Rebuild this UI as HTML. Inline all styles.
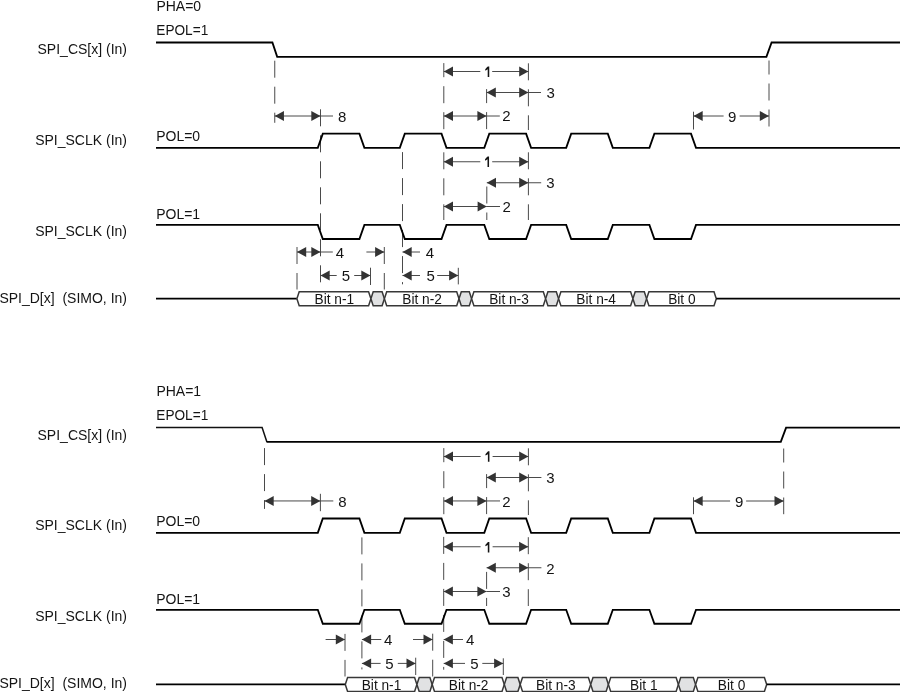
<!DOCTYPE html>
<html><head><meta charset="utf-8"><style>
html,body{margin:0;padding:0;background:#fff;overflow:hidden;}
svg{display:block;will-change:transform;font-family:"Liberation Sans", sans-serif;}
</style></head><body>
<svg width="900" height="692" viewBox="0 0 900 692">
<rect width="900" height="692" fill="#fff"/>
<text transform="translate(156.4,11) scale(1.0,1.05)" text-anchor="start" font-size="14" fill="#141414">PHA=0</text>
<text transform="translate(156.3,34.8) scale(0.975,1.08)" text-anchor="start" font-size="14" fill="#141414">EPOL=1</text>
<text x="127" y="53.5" text-anchor="end" font-size="14" fill="#141414">SPI_CS[x] (In)</text>
<text x="127" y="144.8" text-anchor="end" font-size="14" fill="#141414">SPI_SCLK (In)</text>
<text transform="translate(156.2,140.8) scale(1.0,1.1)" text-anchor="start" font-size="14" fill="#141414">POL=0</text>
<text transform="translate(156.2,218.8) scale(1.0,1.1)" text-anchor="start" font-size="14" fill="#141414">POL=1</text>
<text x="127" y="235.8" text-anchor="end" font-size="14" fill="#141414">SPI_SCLK (In)</text>
<text x="127" y="303.2" text-anchor="end" font-size="14" fill="#141414">SPI_D[x]&#160;&#160;(SIMO, In)</text>
<path d="M274.75,60.7V77.7 M274.75,86.7V103.7 M274.75,112.7V122.8" stroke="#4a4a4a" stroke-width="1.0" fill="none"/>
<path d="M769,60.5V74.5 M769,83.5V100.5 M769,109.5V126.5" stroke="#4a4a4a" stroke-width="1.0" fill="none"/>
<line x1="693.5" y1="111.7" x2="693.5" y2="129.5" stroke="#4a4a4a" stroke-width="1.0"/>
<path d="M320.5,109.3V126.3 M320.5,135.3V152.3 M320.5,161.3V178.3 M320.5,187.3V204.3 M320.5,213.3V230.3 M320.5,239.3V256.3 M320.5,265.3V282.3" stroke="#4a4a4a" stroke-width="1.0" fill="none"/>
<path d="M402.5,152.1V169.1 M402.5,178.1V195.1 M402.5,204.1V221.1 M402.5,230.1V247.1 M402.5,256.1V273.1 M402.5,282.1V284.3" stroke="#4a4a4a" stroke-width="1.0" fill="none"/>
<path d="M297,247V264 M297,273V289.5" stroke="#4a4a4a" stroke-width="1.0" fill="none"/>
<path d="M384.3,247V264 M384.3,273V289.5" stroke="#4a4a4a" stroke-width="1.0" fill="none"/>
<line x1="370.5" y1="267.7" x2="370.5" y2="285" stroke="#4a4a4a" stroke-width="1.0"/>
<line x1="458.3" y1="267.8" x2="458.3" y2="284.4" stroke="#4a4a4a" stroke-width="1.0"/>
<path d="M443.8,63.1V77.2 M443.8,86.2V103.2 M443.8,112.2V129.2" stroke="#4a4a4a" stroke-width="1.0" fill="none"/>
<path d="M443.8,152.3V169.3 M443.8,178.3V195.3 M443.8,204.3V220" stroke="#4a4a4a" stroke-width="1.0" fill="none"/>
<path d="M486.6,89.1V103.1 M486.6,112.1V129.1" stroke="#4a4a4a" stroke-width="1.0" fill="none"/>
<path d="M486.8,186.5V203.5 M486.8,212.5V220" stroke="#4a4a4a" stroke-width="1.0" fill="none"/>
<path d="M528.4,63.3V80.3 M528.4,89.3V106.3 M528.4,115.3V130" stroke="#4a4a4a" stroke-width="1.0" fill="none"/>
<path d="M528.4,152.3V169.3 M528.4,178.3V195.3 M528.4,204.3V220" stroke="#4a4a4a" stroke-width="1.0" fill="none"/>
<path d="M156,42.5 L272.4,42.5 L277.2,56.8 L766.4,56.8 L771.6,42.5 L900,42.5" fill="none" stroke="#000" stroke-width="1.85" stroke-linejoin="miter" stroke-miterlimit="10"/>
<path d="M156,147.8 L317.8,147.8 L322.8,133.6 L359.4,133.6 L364.4,147.8 L399.8,147.8 L404.8,133.6 L441.5,133.6 L446.5,147.8 L484.3,147.8 L489.3,133.6 L526.1,133.6 L531.1,147.8 L566.2,147.8 L571.2,133.6 L607.8,133.6 L612.8,147.8 L649.4,147.8 L654.4,133.6 L691,133.6 L696,147.8 L900,147.8" fill="none" stroke="#000" stroke-width="1.85" stroke-linejoin="miter" stroke-miterlimit="10"/>
<path d="M156,224.9 L317.8,224.9 L322.8,239 L359.4,239 L364.4,224.9 L399.8,224.9 L404.8,239 L441.5,239 L446.5,224.9 L484.3,224.9 L489.3,239 L526.1,239 L531.1,224.9 L566.2,224.9 L571.2,239 L607.8,239 L612.8,224.9 L649.4,224.9 L654.4,239 L691,239 L696,224.9 L900,224.9" fill="none" stroke="#000" stroke-width="1.85" stroke-linejoin="miter" stroke-miterlimit="10"/>
<line x1="274.75" y1="116" x2="320.5" y2="116" stroke="#4a4a4a" stroke-width="1.0"/>
<line x1="320.5" y1="116" x2="333" y2="116" stroke="#4a4a4a" stroke-width="1.0"/>
<polygon points="274.75,116 283.95,111.05 283.95,120.95" fill="#333"/>
<polygon points="320.5,116 311.3,111.05 311.3,120.95" fill="#333"/>
<text x="342.25" y="121.6" text-anchor="middle" font-size="15" fill="#141414">8</text>
<line x1="693.5" y1="116" x2="723.6" y2="116" stroke="#4a4a4a" stroke-width="1.0"/>
<line x1="739.6" y1="116" x2="769" y2="116" stroke="#4a4a4a" stroke-width="1.0"/>
<polygon points="693.5,116 702.7,111.05 702.7,120.95" fill="#333"/>
<polygon points="769,116 759.8,111.05 759.8,120.95" fill="#333"/>
<text x="732.1" y="121.85" text-anchor="middle" font-size="15" fill="#141414">9</text>
<line x1="443.8" y1="71.5" x2="480.3" y2="71.5" stroke="#4a4a4a" stroke-width="1.0"/>
<line x1="492.2" y1="71.5" x2="528.4" y2="71.5" stroke="#4a4a4a" stroke-width="1.0"/>
<polygon points="443.8,71.5 453,66.55 453,76.45" fill="#333"/>
<polygon points="528.4,71.5 519.2,66.55 519.2,76.45" fill="#333"/>
<polygon points="489.25,66.45 489.25,76.95 487.7,76.95 487.7,69.35 485.4,70.75 485.2,69.35 486.95,67.35 487.85,66.45" fill="#141414"/>
<line x1="486.6" y1="92.5" x2="528.4" y2="92.5" stroke="#4a4a4a" stroke-width="1.0"/>
<line x1="528.4" y1="92.5" x2="541" y2="92.5" stroke="#4a4a4a" stroke-width="1.0"/>
<polygon points="486.6,92.5 495.8,87.55 495.8,97.45" fill="#333"/>
<polygon points="528.4,92.5 519.2,87.55 519.2,97.45" fill="#333"/>
<text x="550.55" y="98.05" text-anchor="middle" font-size="15" fill="#141414">3</text>
<line x1="443.8" y1="116" x2="486.6" y2="116" stroke="#4a4a4a" stroke-width="1.0"/>
<line x1="486.6" y1="116" x2="499.8" y2="116" stroke="#4a4a4a" stroke-width="1.0"/>
<polygon points="443.8,116 453,111.05 453,120.95" fill="#333"/>
<polygon points="486.6,116 477.4,111.05 477.4,120.95" fill="#333"/>
<text x="506.45" y="121.25" text-anchor="middle" font-size="15" fill="#141414">2</text>
<line x1="443.8" y1="161.75" x2="480.3" y2="161.75" stroke="#4a4a4a" stroke-width="1.0"/>
<line x1="492.2" y1="161.75" x2="528.4" y2="161.75" stroke="#4a4a4a" stroke-width="1.0"/>
<polygon points="443.8,161.75 453,156.8 453,166.7" fill="#333"/>
<polygon points="528.4,161.75 519.2,156.8 519.2,166.7" fill="#333"/>
<polygon points="489.05,156.45 489.05,166.95 487.5,166.95 487.5,159.35 485.2,160.75 485,159.35 486.75,157.35 487.65,156.45" fill="#141414"/>
<line x1="486.8" y1="182.75" x2="528.4" y2="182.75" stroke="#4a4a4a" stroke-width="1.0"/>
<line x1="528.4" y1="182.75" x2="541.2" y2="182.75" stroke="#4a4a4a" stroke-width="1.0"/>
<polygon points="486.8,182.75 496,177.8 496,187.7" fill="#333"/>
<polygon points="528.4,182.75 519.2,177.8 519.2,187.7" fill="#333"/>
<text x="550.5" y="188.25" text-anchor="middle" font-size="15" fill="#141414">3</text>
<line x1="443.8" y1="206.5" x2="486.8" y2="206.5" stroke="#4a4a4a" stroke-width="1.0"/>
<line x1="486.8" y1="206.5" x2="500" y2="206.5" stroke="#4a4a4a" stroke-width="1.0"/>
<polygon points="443.8,206.5 453,201.55 453,211.45" fill="#333"/>
<polygon points="486.8,206.5 477.6,201.55 477.6,211.45" fill="#333"/>
<text x="506.55" y="211.9" text-anchor="middle" font-size="15" fill="#141414">2</text>
<line x1="297" y1="252" x2="320.5" y2="252" stroke="#4a4a4a" stroke-width="1.0"/>
<line x1="320.5" y1="252" x2="332.8" y2="252" stroke="#4a4a4a" stroke-width="1.0"/>
<polygon points="297,252 306.2,247.05 306.2,256.95" fill="#333"/>
<polygon points="320.5,252 311.3,247.05 311.3,256.95" fill="#333"/>
<text x="340" y="257.8" text-anchor="middle" font-size="15" fill="#141414">4</text>
<line x1="366.4" y1="252" x2="384.3" y2="252" stroke="#4a4a4a" stroke-width="1.0"/>
<polygon points="384.3,252 375.1,247.05 375.1,256.95" fill="#333"/>
<line x1="402.5" y1="252" x2="420" y2="252" stroke="#4a4a4a" stroke-width="1.0"/>
<polygon points="402.5,252 411.7,247.05 411.7,256.95" fill="#333"/>
<text x="430" y="257.8" text-anchor="middle" font-size="15" fill="#141414">4</text>
<line x1="320.5" y1="275.5" x2="336.7" y2="275.5" stroke="#4a4a4a" stroke-width="1.0"/>
<line x1="354.2" y1="275.5" x2="370.5" y2="275.5" stroke="#4a4a4a" stroke-width="1.0"/>
<polygon points="320.5,275.5 329.7,270.55 329.7,280.45" fill="#333"/>
<polygon points="370.5,275.5 361.3,270.55 361.3,280.45" fill="#333"/>
<text x="345.85" y="280.95" text-anchor="middle" font-size="15" fill="#141414">5</text>
<line x1="402.5" y1="275.5" x2="420" y2="275.5" stroke="#4a4a4a" stroke-width="1.0"/>
<line x1="437.2" y1="275.5" x2="458.3" y2="275.5" stroke="#4a4a4a" stroke-width="1.0"/>
<polygon points="402.5,275.5 411.7,270.55 411.7,280.45" fill="#333"/>
<polygon points="458.3,275.5 449.1,270.55 449.1,280.45" fill="#333"/>
<text x="430.55" y="280.95" text-anchor="middle" font-size="15" fill="#141414">5</text>
<line x1="156" y1="298.6" x2="296.9" y2="298.6" stroke="#000" stroke-width="1.85"/>
<polygon points="296.9,298.75 299.2,291.7 368.6,291.7 370.9,298.75 368.6,305.8 299.2,305.8" fill="#fff" stroke="#383838" stroke-width="1.5" stroke-linejoin="miter"/>
<text transform="translate(334.3,303.9) scale(0.98,1.08)" text-anchor="middle" font-size="14" fill="#141414">Bit n-1</text>
<polygon points="370.9,298.75 373.2,291.7 382.1,291.7 384.4,298.75 382.1,305.8 373.2,305.8" fill="#e1e2e3" stroke="#383838" stroke-width="1.5" stroke-linejoin="miter"/>
<polygon points="384.4,298.75 386.7,291.7 456.7,291.7 459,298.75 456.7,305.8 386.7,305.8" fill="#fff" stroke="#383838" stroke-width="1.5" stroke-linejoin="miter"/>
<text transform="translate(422.1,303.9) scale(0.98,1.08)" text-anchor="middle" font-size="14" fill="#141414">Bit n-2</text>
<polygon points="459,298.75 461.3,291.7 469.3,291.7 471.6,298.75 469.3,305.8 461.3,305.8" fill="#e1e2e3" stroke="#383838" stroke-width="1.5" stroke-linejoin="miter"/>
<polygon points="471.6,298.75 473.9,291.7 543.3,291.7 545.6,298.75 543.3,305.8 473.9,305.8" fill="#fff" stroke="#383838" stroke-width="1.5" stroke-linejoin="miter"/>
<text transform="translate(509,303.9) scale(0.98,1.08)" text-anchor="middle" font-size="14" fill="#141414">Bit n-3</text>
<polygon points="545.6,298.75 547.9,291.7 556.3,291.7 558.6,298.75 556.3,305.8 547.9,305.8" fill="#e1e2e3" stroke="#383838" stroke-width="1.5" stroke-linejoin="miter"/>
<polygon points="558.6,298.75 560.9,291.7 630.6,291.7 632.9,298.75 630.6,305.8 560.9,305.8" fill="#fff" stroke="#383838" stroke-width="1.5" stroke-linejoin="miter"/>
<text transform="translate(596.15,303.9) scale(0.98,1.08)" text-anchor="middle" font-size="14" fill="#141414">Bit n-4</text>
<polygon points="632.9,298.75 635.2,291.7 644.3,291.7 646.6,298.75 644.3,305.8 635.2,305.8" fill="#e1e2e3" stroke="#383838" stroke-width="1.5" stroke-linejoin="miter"/>
<polygon points="646.6,298.75 648.9,291.7 714,291.7 716.3,298.75 714,305.8 648.9,305.8" fill="#fff" stroke="#383838" stroke-width="1.5" stroke-linejoin="miter"/>
<text transform="translate(681.85,303.9) scale(0.98,1.08)" text-anchor="middle" font-size="14" fill="#141414">Bit 0</text>
<line x1="716.3" y1="298.6" x2="900" y2="298.6" stroke="#000" stroke-width="1.85"/>
<text transform="translate(156.4,396) scale(1.0,1.05)" text-anchor="start" font-size="14" fill="#141414">PHA=1</text>
<text transform="translate(156.3,419.8) scale(0.975,1.08)" text-anchor="start" font-size="14" fill="#141414">EPOL=1</text>
<text x="127" y="439.5" text-anchor="end" font-size="14" fill="#141414">SPI_CS[x] (In)</text>
<text x="127" y="529.8" text-anchor="end" font-size="14" fill="#141414">SPI_SCLK (In)</text>
<text transform="translate(156.2,525.8) scale(1.0,1.1)" text-anchor="start" font-size="14" fill="#141414">POL=0</text>
<text transform="translate(156.2,603.8) scale(1.0,1.1)" text-anchor="start" font-size="14" fill="#141414">POL=1</text>
<text x="127" y="620.8" text-anchor="end" font-size="14" fill="#141414">SPI_SCLK (In)</text>
<text x="127" y="688.2" text-anchor="end" font-size="14" fill="#141414">SPI_D[x]&#160;&#160;(SIMO, In)</text>
<path d="M264.5,448.1V465.1 M264.5,474.1V491.1 M264.5,500.1V508.9" stroke="#4a4a4a" stroke-width="1.0" fill="none"/>
<path d="M783.7,448.5V462.5 M783.7,471.5V488.5 M783.7,497.5V514.2" stroke="#4a4a4a" stroke-width="1.0" fill="none"/>
<line x1="320.4" y1="493.8" x2="320.4" y2="511.2" stroke="#4a4a4a" stroke-width="1.0"/>
<line x1="693.5" y1="497.3" x2="693.5" y2="514.2" stroke="#4a4a4a" stroke-width="1.0"/>
<path d="M443.8,448.1V462.2 M443.8,471.2V488.2 M443.8,497.2V514.2" stroke="#4a4a4a" stroke-width="1.0" fill="none"/>
<path d="M486.6,474.1V488.1 M486.6,497.1V514.1" stroke="#4a4a4a" stroke-width="1.0" fill="none"/>
<path d="M528.4,448.3V465.3 M528.4,474.3V491.3 M528.4,500.3V515" stroke="#4a4a4a" stroke-width="1.0" fill="none"/>
<path d="M443.7,536.9V553.9 M443.7,562.9V579.9 M443.7,588.9V605.9 M443.7,614.9V631.9 M443.7,640.9V657.9 M443.7,666.9V669.7" stroke="#4a4a4a" stroke-width="1.0" fill="none"/>
<path d="M486.6,571.9V588.9 M486.6,597.9V606" stroke="#4a4a4a" stroke-width="1.0" fill="none"/>
<path d="M528.3,537.2V554.2 M528.3,563.2V580.2 M528.3,589.2V606" stroke="#4a4a4a" stroke-width="1.0" fill="none"/>
<path d="M361.9,537.4V554.4 M361.9,563.4V580.4 M361.9,589.4V606.4 M361.9,615.4V632.4 M361.9,641.4V658.4 M361.9,667.4V669.4" stroke="#4a4a4a" stroke-width="1.0" fill="none"/>
<path d="M345,633.9V650.9 M345,659.9V676.5" stroke="#4a4a4a" stroke-width="1.0" fill="none"/>
<path d="M432.7,633.7V650.7 M432.7,659.7V676.5" stroke="#4a4a4a" stroke-width="1.0" fill="none"/>
<line x1="415.7" y1="657.7" x2="415.7" y2="675" stroke="#4a4a4a" stroke-width="1.0"/>
<line x1="503.3" y1="658.3" x2="503.3" y2="675" stroke="#4a4a4a" stroke-width="1.0"/>
<path d="M156,427.5 L262.1,427.5 L266.9,441.9" fill="none" stroke="#111" stroke-width="1.5"/>
<path d="M266.6,441.9 L780.8,441.9 L786.1,427.6 L900,427.6" fill="none" stroke="#000" stroke-width="1.85" stroke-linejoin="miter" stroke-miterlimit="10"/>
<path d="M156,532.9 L317.8,532.9 L322.8,518.5 L359.4,518.5 L364.4,532.9 L399.8,532.9 L404.8,518.5 L441.5,518.5 L446.5,532.9 L484.3,532.9 L489.3,518.5 L526.1,518.5 L531.1,532.9 L566.2,532.9 L571.2,518.5 L607.8,518.5 L612.8,532.9 L649.4,532.9 L654.4,518.5 L691,518.5 L696,532.9 L900,532.9" fill="none" stroke="#000" stroke-width="1.85" stroke-linejoin="miter" stroke-miterlimit="10"/>
<path d="M156,609.8 L317.8,609.8 L322.8,623.7 L359.4,623.7 L364.4,609.8 L399.8,609.8 L404.8,623.7 L441.5,623.7 L446.5,609.8 L484.3,609.8 L489.3,623.7 L526.1,623.7 L531.1,609.8 L566.2,609.8 L571.2,623.7 L607.8,623.7 L612.8,609.8 L649.4,609.8 L654.4,623.7 L691,623.7 L696,609.8 L900,609.8" fill="none" stroke="#000" stroke-width="1.85" stroke-linejoin="miter" stroke-miterlimit="10"/>
<line x1="264.5" y1="500.95" x2="320.4" y2="500.95" stroke="#4a4a4a" stroke-width="1.0"/>
<line x1="320.4" y1="500.95" x2="333.3" y2="500.95" stroke="#4a4a4a" stroke-width="1.0"/>
<polygon points="264.5,500.95 273.7,496 273.7,505.9" fill="#333"/>
<polygon points="320.4,500.95 311.2,496 311.2,505.9" fill="#333"/>
<text x="342.45" y="506.65" text-anchor="middle" font-size="15" fill="#141414">8</text>
<line x1="693.5" y1="501" x2="730.1" y2="501" stroke="#4a4a4a" stroke-width="1.0"/>
<line x1="746.1" y1="501" x2="783.7" y2="501" stroke="#4a4a4a" stroke-width="1.0"/>
<polygon points="693.5,501 702.7,496.05 702.7,505.95" fill="#333"/>
<polygon points="783.7,501 774.5,496.05 774.5,505.95" fill="#333"/>
<text x="739.05" y="506.85" text-anchor="middle" font-size="15" fill="#141414">9</text>
<line x1="443.8" y1="456.5" x2="480.6" y2="456.5" stroke="#4a4a4a" stroke-width="1.0"/>
<line x1="492.6" y1="456.5" x2="528.4" y2="456.5" stroke="#4a4a4a" stroke-width="1.0"/>
<polygon points="443.8,456.5 453,451.55 453,461.45" fill="#333"/>
<polygon points="528.4,456.5 519.2,451.55 519.2,461.45" fill="#333"/>
<polygon points="489.45,451.25 489.45,461.75 487.9,461.75 487.9,454.15 485.6,455.55 485.4,454.15 487.15,452.15 488.05,451.25" fill="#141414"/>
<line x1="486.6" y1="477.5" x2="528.4" y2="477.5" stroke="#4a4a4a" stroke-width="1.0"/>
<line x1="528.4" y1="477.5" x2="541.4" y2="477.5" stroke="#4a4a4a" stroke-width="1.0"/>
<polygon points="486.6,477.5 495.8,472.55 495.8,482.45" fill="#333"/>
<polygon points="528.4,477.5 519.2,472.55 519.2,482.45" fill="#333"/>
<text x="550.5" y="483.15" text-anchor="middle" font-size="15" fill="#141414">3</text>
<line x1="443.8" y1="500.95" x2="486.6" y2="500.95" stroke="#4a4a4a" stroke-width="1.0"/>
<line x1="486.6" y1="500.95" x2="500" y2="500.95" stroke="#4a4a4a" stroke-width="1.0"/>
<polygon points="443.8,500.95 453,496 453,505.9" fill="#333"/>
<polygon points="486.6,500.95 477.4,496 477.4,505.9" fill="#333"/>
<text x="506.5" y="506.75" text-anchor="middle" font-size="15" fill="#141414">2</text>
<line x1="443.7" y1="546.75" x2="480.6" y2="546.75" stroke="#4a4a4a" stroke-width="1.0"/>
<line x1="492.6" y1="546.75" x2="528.3" y2="546.75" stroke="#4a4a4a" stroke-width="1.0"/>
<polygon points="443.7,546.75 452.9,541.8 452.9,551.7" fill="#333"/>
<polygon points="528.3,546.75 519.1,541.8 519.1,551.7" fill="#333"/>
<polygon points="489.35,542.05 489.35,552.55 487.8,552.55 487.8,544.95 485.5,546.35 485.3,544.95 487.05,542.95 487.95,542.05" fill="#141414"/>
<line x1="486.6" y1="567.75" x2="528.3" y2="567.75" stroke="#4a4a4a" stroke-width="1.0"/>
<line x1="528.3" y1="567.75" x2="541.4" y2="567.75" stroke="#4a4a4a" stroke-width="1.0"/>
<polygon points="486.6,567.75 495.8,562.8 495.8,572.7" fill="#333"/>
<polygon points="528.3,567.75 519.1,562.8 519.1,572.7" fill="#333"/>
<text x="550.5" y="573.65" text-anchor="middle" font-size="15" fill="#141414">2</text>
<line x1="443.7" y1="591.5" x2="486.6" y2="591.5" stroke="#4a4a4a" stroke-width="1.0"/>
<line x1="486.6" y1="591.5" x2="500" y2="591.5" stroke="#4a4a4a" stroke-width="1.0"/>
<polygon points="443.7,591.5 452.9,586.55 452.9,596.45" fill="#333"/>
<polygon points="486.6,591.5 477.4,586.55 477.4,596.45" fill="#333"/>
<text x="506.4" y="597.35" text-anchor="middle" font-size="15" fill="#141414">3</text>
<line x1="325.6" y1="639.5" x2="345" y2="639.5" stroke="#4a4a4a" stroke-width="1.0"/>
<polygon points="345,639.5 335.8,634.55 335.8,644.45" fill="#333"/>
<line x1="361.9" y1="639.5" x2="381.3" y2="639.5" stroke="#4a4a4a" stroke-width="1.0"/>
<polygon points="361.9,639.5 371.1,634.55 371.1,644.45" fill="#333"/>
<text x="388.1" y="645.15" text-anchor="middle" font-size="15" fill="#141414">4</text>
<line x1="413" y1="639.5" x2="432.7" y2="639.5" stroke="#4a4a4a" stroke-width="1.0"/>
<polygon points="432.7,639.5 423.5,634.55 423.5,644.45" fill="#333"/>
<line x1="443.7" y1="639.5" x2="463" y2="639.5" stroke="#4a4a4a" stroke-width="1.0"/>
<polygon points="443.7,639.5 452.9,634.55 452.9,644.45" fill="#333"/>
<text x="470.1" y="645.15" text-anchor="middle" font-size="15" fill="#141414">4</text>
<line x1="361.9" y1="663.4" x2="380.6" y2="663.4" stroke="#4a4a4a" stroke-width="1.0"/>
<line x1="397.8" y1="663.4" x2="415.7" y2="663.4" stroke="#4a4a4a" stroke-width="1.0"/>
<polygon points="361.9,663.4 371.1,658.45 371.1,668.35" fill="#333"/>
<polygon points="415.7,663.4 406.5,658.45 406.5,668.35" fill="#333"/>
<text x="389.35" y="668.95" text-anchor="middle" font-size="15" fill="#141414">5</text>
<line x1="443.7" y1="663.4" x2="465" y2="663.4" stroke="#4a4a4a" stroke-width="1.0"/>
<line x1="482.3" y1="663.4" x2="503.3" y2="663.4" stroke="#4a4a4a" stroke-width="1.0"/>
<polygon points="443.7,663.4 452.9,658.45 452.9,668.35" fill="#333"/>
<polygon points="503.3,663.4 494.1,658.45 494.1,668.35" fill="#333"/>
<text x="474.3" y="668.95" text-anchor="middle" font-size="15" fill="#141414">5</text>
<line x1="156" y1="684.3" x2="345.3" y2="684.3" stroke="#000" stroke-width="1.85"/>
<polygon points="345.3,684.45 347.6,677.4 414.6,677.4 416.9,684.45 414.6,691.5 347.6,691.5" fill="#fff" stroke="#383838" stroke-width="1.5" stroke-linejoin="miter"/>
<text transform="translate(381.5,689.6) scale(0.98,1.08)" text-anchor="middle" font-size="14" fill="#141414">Bit n-1</text>
<polygon points="416.9,684.45 419.2,677.4 429.9,677.4 432.2,684.45 429.9,691.5 419.2,691.5" fill="#e1e2e3" stroke="#383838" stroke-width="1.5" stroke-linejoin="miter"/>
<polygon points="432.2,684.45 434.5,677.4 502,677.4 504.3,684.45 502,691.5 434.5,691.5" fill="#fff" stroke="#383838" stroke-width="1.5" stroke-linejoin="miter"/>
<text transform="translate(468.65,689.6) scale(0.98,1.08)" text-anchor="middle" font-size="14" fill="#141414">Bit n-2</text>
<polygon points="504.3,684.45 506.6,677.4 517.9,677.4 520.2,684.45 517.9,691.5 506.6,691.5" fill="#e1e2e3" stroke="#383838" stroke-width="1.5" stroke-linejoin="miter"/>
<polygon points="520.2,684.45 522.5,677.4 588.4,677.4 590.7,684.45 588.4,691.5 522.5,691.5" fill="#fff" stroke="#383838" stroke-width="1.5" stroke-linejoin="miter"/>
<text transform="translate(555.85,689.6) scale(0.98,1.08)" text-anchor="middle" font-size="14" fill="#141414">Bit n-3</text>
<polygon points="590.7,684.45 593,677.4 606.1,677.4 608.4,684.45 606.1,691.5 593,691.5" fill="#e1e2e3" stroke="#383838" stroke-width="1.5" stroke-linejoin="miter"/>
<polygon points="608.4,684.45 610.7,677.4 676.1,677.4 678.4,684.45 676.1,691.5 610.7,691.5" fill="#fff" stroke="#383838" stroke-width="1.5" stroke-linejoin="miter"/>
<text transform="translate(643.8,689.6) scale(0.98,1.08)" text-anchor="middle" font-size="14" fill="#141414">Bit 1</text>
<polygon points="678.4,684.45 680.7,677.4 693.3,677.4 695.6,684.45 693.3,691.5 680.7,691.5" fill="#e1e2e3" stroke="#383838" stroke-width="1.5" stroke-linejoin="miter"/>
<polygon points="695.6,684.45 697.9,677.4 764.4,677.4 766.7,684.45 764.4,691.5 697.9,691.5" fill="#fff" stroke="#383838" stroke-width="1.5" stroke-linejoin="miter"/>
<text transform="translate(731.55,689.6) scale(0.98,1.08)" text-anchor="middle" font-size="14" fill="#141414">Bit 0</text>
<line x1="766.7" y1="684.3" x2="900" y2="684.3" stroke="#000" stroke-width="1.85"/>
</svg></body></html>
